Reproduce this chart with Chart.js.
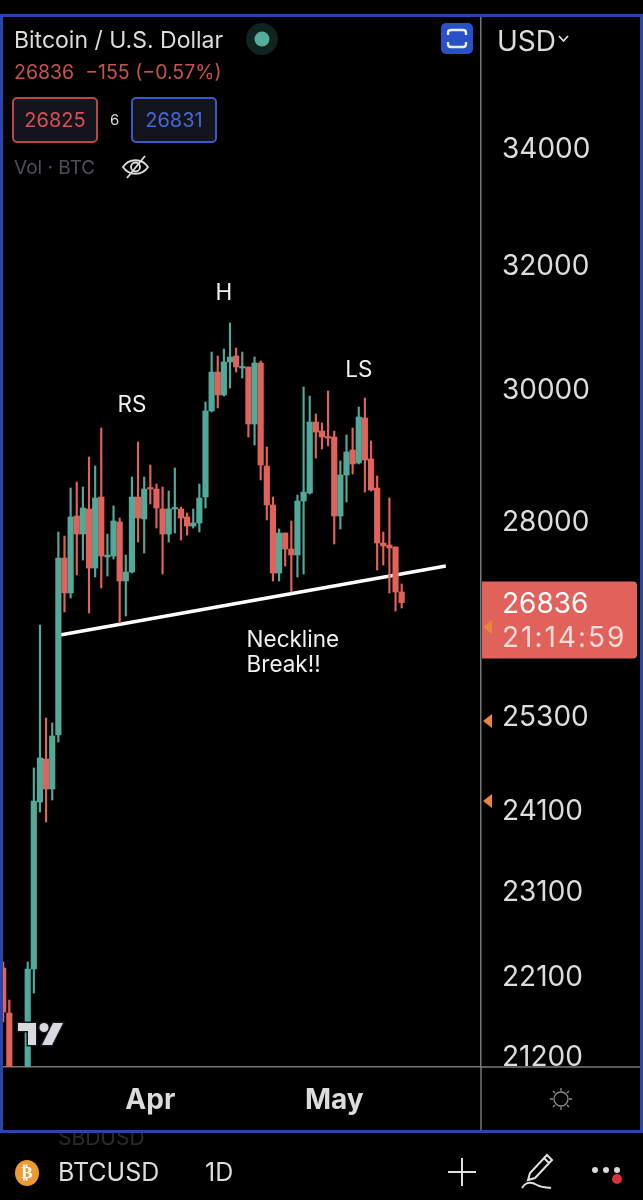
<!DOCTYPE html>
<html>
<head>
<meta charset="utf-8">
<title>BTCUSD</title>
<script src="https://cdn.jsdelivr.net/npm/chart.js@4"></script>
<style>
html, body { margin: 0; padding: 0; background: #000; }
#page { position: relative; width: 643px; height: 1200px; overflow: hidden; background: #000; font-family: Inter, "Noto Sans", sans-serif; }
canvas { position: absolute; left: 0; top: 0; }
.t { position: absolute; white-space: nowrap; line-height: 1; }
.frame { position: absolute; left: 0; top: 14px; width: 637px; height: 1113px; border: 3px solid #2a45a8; pointer-events: none; }
.box { position: absolute; top: 97px; width: 82px; height: 42px; border-radius: 5px; background: #14141c; text-align: center; line-height: 42px; font-size: 20px; }
svg { position: absolute; }
</style>
</head>
<body>
<div id="page">
  <canvas id="chart" width="643" height="1200"></canvas>

  <div style="position:absolute;left:0;top:1130px;width:643px;height:16px;overflow:hidden;">
    <div class="t" style="left:58px;top:-3px;font-size:21px;color:#2b2b2b;">SBDUSD</div>
  </div>
  <div class="frame"></div>

  <div class="t" style="left:14px;top:29px;font-size:23px;color:#dcdcdc;">Bitcoin / U.S. Dollar</div>
  <svg style="left:246px;top:23px" width="32" height="32"><circle cx="16" cy="16" r="16" fill="#10241f"/><circle cx="16" cy="16" r="7.5" fill="#53ad9b"/></svg>
  <div class="t" style="left:14px;top:63px;font-size:19.5px;color:#c9524d;">26836&nbsp; −155 (−0.57%)</div>
  <div class="box" style="left:12px;border:2px solid #b8474a;color:#d94f57;">26825</div>
  <div class="t" style="left:110px;top:112px;font-size:15px;color:#d8d8d8;">6</div>
  <div class="box" style="left:131px;border:2px solid #3a59c8;color:#4468d6;">26831</div>
  <div class="t" style="left:14px;top:158px;font-size:19px;color:#4b4f57;">Vol · BTC</div>
  <svg style="left:121px;top:154px" width="29" height="26" fill="none" stroke="#dcdcdc" stroke-width="1.8">
    <path d="M2 13 C8 4 21 4 27 13 C21 22 8 22 2 13 Z"/><circle cx="14.5" cy="13" r="4.5"/><path d="M6 24 L24 2"/>
  </svg>
  <svg style="left:441px;top:23px" width="32" height="31" fill="none">
    <rect width="32" height="31" rx="5" fill="#2a50c8"/>
    <path d="M7 12 V10 Q7 7 10 7 H22 Q25 7 25 10 V12 M7 19 V21 Q7 24 10 24 H22 Q25 24 25 21 V19" stroke="#e8ecf8" stroke-width="2.4"/>
  </svg>
  <div class="t" style="left:497px;top:27px;font-size:28px;color:#dcdcdc;">USD</div>
  <svg style="left:558px;top:35px" width="11" height="8" fill="none" stroke="#dcdcdc" stroke-width="1.8"><path d="M1 1 L5.5 6 L10 1"/></svg>

  <svg style="left:15px;top:1020px" width="50" height="28">
    <g fill="#d8dade" stroke="#15171c" stroke-width="3" paint-order="stroke">
      <path d="M3 3 H21 V25 H13 V11 H3 Z M38 3 H48 L37 25 H27 Z"/><circle cx="29" cy="7.5" r="4.5"/>
    </g>
  </svg>
  <svg style="left:549px;top:1087px" width="24" height="24" fill="none" stroke="#8a8a8a" stroke-width="1.3">
    <circle cx="12" cy="12" r="7"/><path d="M12 1 V4 M12 20 V23 M1 12 H4 M20 12 H23 M4 4 L6 6 M18 18 L20 20 M4 20 L6 18 M18 6 L20 4"/>
  </svg>

  <svg style="left:15px;top:1160px" width="24" height="26"><ellipse cx="12" cy="13" rx="12" ry="13" fill="#ee9a34"/></svg>
  <div class="t" style="left:15px;top:1164px;width:24px;text-align:center;font-size:17px;font-weight:700;color:#fff;font-family:'DejaVu Sans';">₿</div>
  <div class="t" style="left:58px;top:1160px;font-size:25px;color:#dcdcdc;">BTCUSD</div>
  <div class="t" style="left:205px;top:1160px;font-size:25px;color:#dcdcdc;">1D</div>
  <svg style="left:448px;top:1158px" width="28" height="28" stroke="#e0e0e0" stroke-width="2"><path d="M14 0 V28 M0 14 H28"/></svg>
  <svg style="left:520px;top:1153px" width="34" height="38" fill="none" stroke="#e0e0e0" stroke-width="2">
    <path d="M27 2 L32 7 L15 25 L8 27 L10 20 Z M24 5 L29 10"/><path d="M2 35 C6 28 12 29 17 32 C22 35 27 34 31 35"/>
  </svg>
  <svg style="left:590px;top:1160px" width="36" height="28">
    <circle cx="5" cy="10" r="3" fill="#d8d8d8"/><circle cx="16" cy="10" r="3" fill="#d8d8d8"/><circle cx="27" cy="10" r="3" fill="#d8d8d8"/><circle cx="27" cy="19" r="5" fill="#d8323c"/>
  </svg>
</div>

<script>
// daily candles, hidden days (below the visible range) left out
var days = [0, 1, 4, 5, 6, 7, 8, 9, 10, 11, 12, 13, 14, 15, 16, 17, 18, 19, 20, 21, 22, 23, 24, 25, 26, 27, 28, 29, 30, 31, 32, 33, 34, 35, 36, 37, 38, 39, 40, 41, 42, 43, 44, 45, 46, 47, 48, 49, 50, 51, 52, 53, 54, 55, 56, 57, 58, 59, 60, 61, 62, 63, 64, 65];
var opens = [22190, 21676, 20900, 22178, 24192, 24739, 24356, 25050, 27466, 26971, 28073, 27811, 28176, 27323, 28352, 27480, 27494, 27985, 27140, 27267, 28352, 28030, 28485, 28470, 28176, 27811, 28176, 28176, 28059, 27927, 27971, 28352, 29650, 30256, 29897, 30415, 30510, 30320, 30336, 29450, 30399, 28813, 28235, 27253, 27826, 27595, 27509, 28293, 28410, 29480, 29342, 29250, 29250, 28073, 28678, 29054, 28858, 29542, 28918, 28485, 27681, 27652, 27624, 26985];
var highs = [22259, 21823, 22259, 24624, 26525, 25272, 25207, 27840, 27782, 28485, 28574, 28500, 28948, 28813, 29389, 27811, 28220, 28044, 27509, 28648, 29175, 28648, 28828, 28544, 28500, 28440, 28783, 28205, 28117, 28176, 28544, 29788, 30573, 30510, 30621, 31039, 30637, 30573, 30336, 30494, 30431, 29100, 28352, 27884, 27826, 28000, 28381, 30022, 29881, 29603, 29465, 29960, 29342, 28888, 29281, 29389, 29711, 29850, 29190, 28663, 27840, 28337, 27624, 27098];
var lows = [21576, 20800, 20800, 21903, 24066, 23941, 24217, 24959, 26705, 26900, 27225, 27437, 26691, 27196, 27041, 27210, 27451, 26553, 26650, 27253, 27695, 27538, 28249, 27898, 27239, 27695, 27826, 27724, 27796, 27898, 27840, 28190, 29634, 29696, 29881, 30006, 30256, 30162, 29250, 29130, 28604, 28015, 27140, 27140, 27351, 26985, 27196, 27239, 28396, 28933, 29069, 29115, 27667, 27884, 28279, 28693, 28843, 28425, 28440, 27295, 27366, 26971, 26719, 26761];
var closes = [21688, 20950, 22178, 24204, 24752, 24356, 25037, 27466, 26971, 28059, 27811, 28190, 27323, 28337, 27494, 27509, 28000, 27140, 27267, 28352, 28044, 28470, 28470, 28190, 27811, 28176, 28190, 28044, 27927, 27971, 28337, 29650, 30256, 29897, 30415, 30494, 30336, 30336, 29450, 30399, 28828, 28235, 27253, 27826, 27595, 27509, 28293, 28425, 29480, 29327, 29250, 29235, 28073, 28678, 29024, 28843, 29557, 28903, 28455, 27681, 27638, 27609, 26985, 26836];

var neckDays = [9.27, 72.2];
var neckPrices = [26388, 27352];

var yTicks = [34000, 32000, 30000, 28000, 25300, 24100, 23100, 22100, 21200];
var xTickDays = [24, 54];
var xTickLabels = ['Apr', 'May'];

var noteTexts = ['RS', 'H', 'LS', 'Neckline', 'Break!!'];
var noteDays = [21, 36, 58, 39.7, 39.7];
var notePrices = [29742, 31526, 30290, 26310, 25970];
var noteAlign = ['center', 'center', 'center', 'left', 'left'];

var lastPrice = '26836';
var countdown = '21:14:59';
var markerPrices = [26497, 25233, 24204];

var green = '#52a899';
var red = '#e1625a';
var fontName = 'Inter, "Noto Sans", sans-serif';

function candleColors() {
    return days.map(function (d, i) {
        return closes[i] >= opens[i] ? green : red;
    });
}

var overlay = {
    id: 'overlay',
    afterDraw: function (chart) {
        var ctx = chart.ctx;
        var xs = chart.scales.x;
        var ys = chart.scales.y;
        var area = chart.chartArea;

        ctx.save();
        // axis lines run on past the plot, up to the frame
        ctx.strokeStyle = '#777777';
        ctx.lineWidth = 1.5;
        ctx.beginPath();
        ctx.moveTo(area.right, area.bottom);
        ctx.lineTo(chart.width, area.bottom);
        ctx.moveTo(area.right, area.bottom);
        ctx.lineTo(area.right, chart.height - 70);
        ctx.stroke();

        ctx.fillStyle = '#f0f0f0';
        ctx.font = '22.5px ' + fontName;
        ctx.textBaseline = 'middle';
        noteTexts.forEach(function (txt, i) {
            ctx.textAlign = noteAlign[i];
            ctx.fillText(txt, xs.getPixelForValue(noteDays[i]), ys.getPixelForValue(notePrices[i]));
        });

        // price tag on the axis
        var tagMid = ys.getPixelForValue(26836) + 17;
        ctx.fillStyle = red;
        ctx.beginPath();
        ctx.roundRect(area.right + 1, tagMid - 38, 155, 77, [0, 4, 4, 0]);
        ctx.fill();
        ctx.textAlign = 'left';
        ctx.font = '28px ' + fontName;
        ctx.fillStyle = '#ffffff';
        ctx.fillText(lastPrice, area.right + 21, tagMid - 15);
        ctx.fillStyle = '#fbdcd9';
        ctx.letterSpacing = '2px';
        ctx.fillText(countdown, area.right + 21, tagMid + 19);
        ctx.letterSpacing = '0px';

        ctx.fillStyle = '#e8873a';
        markerPrices.forEach(function (p) {
            var y = ys.getPixelForValue(p);
            ctx.beginPath();
            ctx.moveTo(area.right + 2, y);
            ctx.lineTo(area.right + 11, y - 7);
            ctx.lineTo(area.right + 11, y + 7);
            ctx.closePath();
            ctx.fill();
        });
        ctx.restore();
    }
};

var colors = candleColors();

new Chart(document.getElementById('chart').getContext('2d'), {
    type: 'bar',
    data: {
        datasets: [
            {
                label: 'Neckline',
                type: 'line',
                data: neckDays.map(function (d, i) { return { x: d, y: neckPrices[i] }; }),
                borderColor: '#ffffff',
                borderWidth: 3.5,
                pointRadius: 0,
                order: 3
            },
            {
                label: 'Wicks',
                data: days.map(function (d, i) { return { x: d, y: [lows[i], highs[i]] }; }),
                backgroundColor: colors,
                barThickness: 1.5,
                grouped: false,
                order: 2
            },
            {
                label: 'Bodies',
                data: days.map(function (d, i) { return { x: d, y: [opens[i], closes[i]] }; }),
                backgroundColor: colors,
                barThickness: 5.5,
                grouped: false,
                minBarLength: 1.5,
                order: 1
            }
        ]
    },
    options: {
        responsive: false,
        animation: false,
        layout: { padding: { top: 17, bottom: 70, left: 0, right: 0 } },
        plugins: { legend: { display: false }, tooltip: { enabled: false } },
        scales: {
            x: {
                type: 'linear',
                offset: false,
                min: -0.52,
                max: 77.94,
                grid: { display: false, drawTicks: false },
                border: { display: true, color: '#777777', width: 1.5 },
                afterFit: function (s) { s.height = 63; s.paddingLeft = 0; s.paddingRight = 0; },
                afterBuildTicks: function (s) {
                    s.ticks = xTickDays.map(function (v) { return { value: v }; });
                },
                ticks: {
                    autoSkip: false,
                    maxRotation: 0,
                    padding: 17,
                    color: '#dcdcdc',
                    font: { family: fontName, size: 28, weight: '700' },
                    callback: function (v) { return xTickLabels[xTickDays.indexOf(v)]; }
                }
            },
            y: {
                type: 'logarithmic',
                position: 'right',
                bounds: 'data',
                min: 21076,
                max: 36395,
                grid: { display: false, drawTicks: false },
                border: { display: true, color: '#777777', width: 1.5 },
                afterFit: function (s) { s.width = 162; s.paddingTop = 0; s.paddingBottom = 0; },
                afterBuildTicks: function (s) {
                    s.ticks = yTicks.map(function (v) { return { value: v }; });
                },
                ticks: {
                    autoSkip: false,
                    padding: 21,
                    labelOffset: 2,
                    color: '#dcdcdc',
                    font: { family: fontName, size: 28 },
                    callback: function (v) { return String(v); }
                }
            }
        }
    },
    plugins: [overlay]
});
</script>
</body>
</html>
